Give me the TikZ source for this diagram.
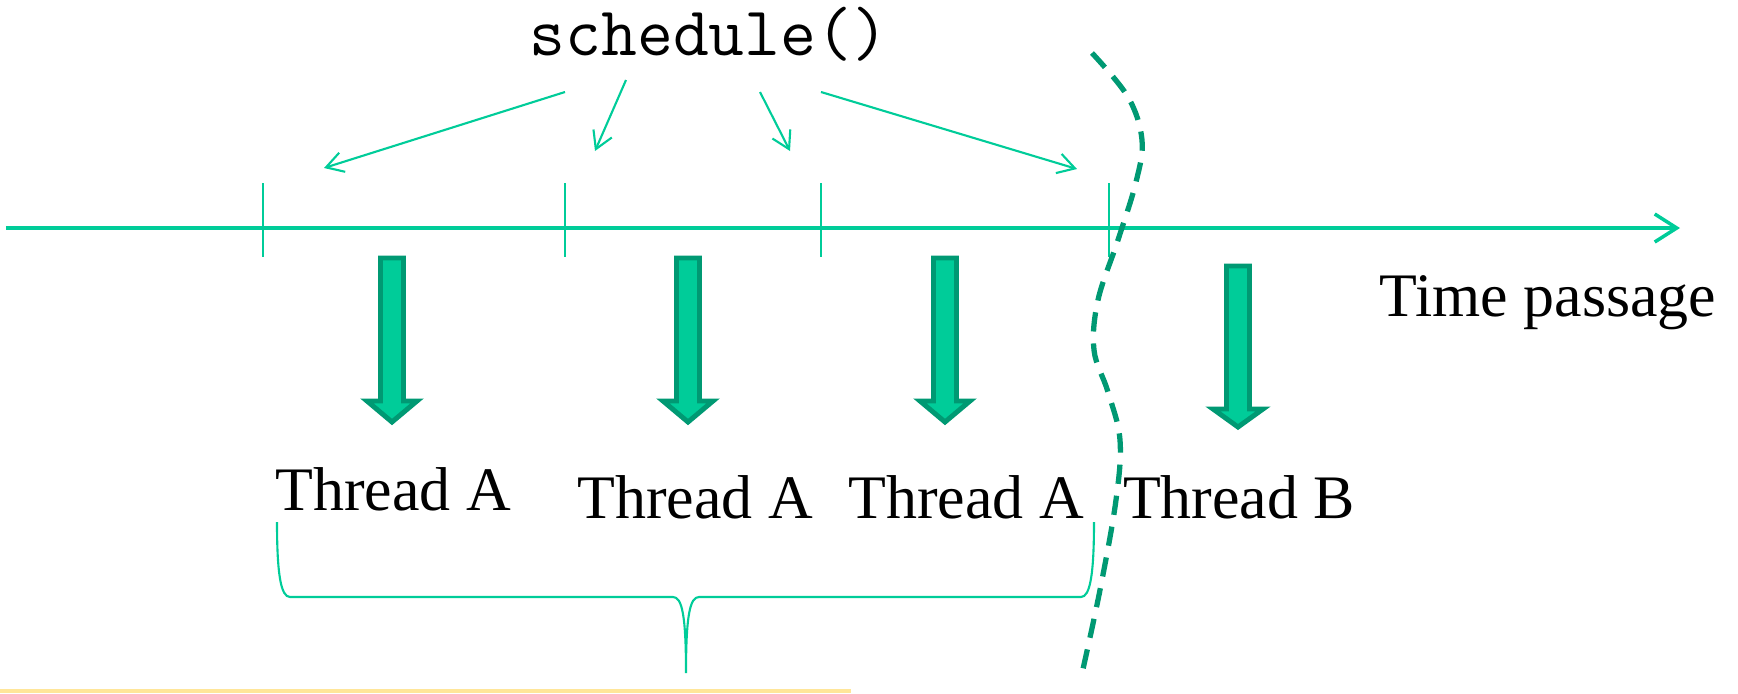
\documentclass[tikz,border=0pt]{standalone}
\usepackage{fontspec}
\setmainfont{Liberation Serif}
\usetikzlibrary{arrows.meta}
\definecolor{tealline}{HTML}{00CC99}
\definecolor{tealdark}{HTML}{009973}
\definecolor{paleyellow}{HTML}{FFE699}
\begin{document}
\begin{tikzpicture}[
    x=0.01cm, y=-0.01cm,
    axis/.style={tealline, line width=1pt, -{Straight Barb[length=2.2mm,width=2.8mm]}},
    tick/.style={tealline, line width=0.45pt},
    arr/.style={tealline, line width=0.6pt, -{Straight Barb[length=1.7mm,width=2mm]}},
    blk/.style={fill=tealline, draw=tealdark, line width=1.4pt, miter limit=10},
    lbl/.style={anchor=base, inner sep=0pt, font=\fontsize{17.6pt}{20pt}\selectfont},
    cut/.style={tealdark, line width=1.5pt, dash pattern=on 5.5pt off 3.4pt}
]
    \useasboundingbox (0,0) rectangle (1738,693);

    % Axe du temps
    \coordinate (tstart) at (6,228);
    \coordinate (tend) at (1680,228);
    \draw[axis] (tstart) -- (tend);
    \foreach \x in {263,565,821,1109}
        \draw[tick] (\x,183) -- (\x,257);
    \node[lbl] (time) at (1548,316) {Time passage};

    % schedule()
    \node[anchor=base, inner sep=0pt, font=\ttfamily\fontsize{19.8pt}{22pt}\selectfont] (sched) at (709,55) {schedule()};
    \coordinate (s1) at (565,92);  \coordinate (e1) at (324,168);
    \coordinate (s2) at (626,80);  \coordinate (e2) at (595,151);
    \coordinate (s3) at (760,92);  \coordinate (e3) at (790,151);
    \coordinate (s4) at (821,92);  \coordinate (e4) at (1077,169);
    \draw[arr] (s1) -- (e1);
    \draw[arr] (s2) -- (e2);
    \draw[arr] (s3) -- (e3);
    \draw[arr] (s4) -- (e4);

    % Fleches epaisses
    \foreach \x/\t/\h/\p in {392/258/401/422, 688/258/401/422, 945/258/401/422, 1238/266/409/427}
        \draw[blk] (\x-11.5,\t) -- (\x+11.5,\t) -- (\x+11.5,\h) -- (\x+25,\h)
            -- (\x,\p) -- (\x-25,\h) -- (\x-11.5,\h) -- cycle;

    % Threads
    \node[lbl] (ta1) at (393,510) {Thread A};
    \node[lbl] (ta2) at (695,518) {Thread A};
    \node[lbl] (ta3) at (966,518) {Thread A};
    \node[lbl] (tb) at (1239,518) {Thread B};

    % Accolade
    \draw[tealline, line width=0.6pt] (277,522) .. controls (277,575) and (281,597) .. (290,597)
        -- (673,597) .. controls (682,597) and (686,615) .. (686,673)
        .. controls (686,615) and (690,597) .. (699,597)
        -- (1081,597) .. controls (1090,597) and (1094,575) .. (1094,522);

    % Coupure
    \draw[cut] plot[smooth, tension=0.6] coordinates {(1092,53) (1128,97) (1142,140) (1136,182)
        (1118,240) (1098,300) (1094,350) (1108,392) (1120,440) (1116,500) (1100,590) (1081,678)};

    % Ligne jaune
    \draw[paleyellow, line width=0.9pt] (0,691) -- (851,691);
\end{tikzpicture}
\end{document}
